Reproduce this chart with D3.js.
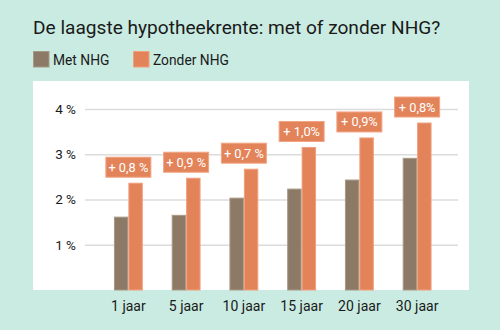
<!DOCTYPE html>
<html><head><meta charset="utf-8">
<script src="https://cdn.jsdelivr.net/npm/d3@7"></script>
<style>
body{margin:0;background:#c9ebe1;}
svg{display:block;font-family:Roboto,"Noto Sans",sans-serif;}
</style></head>
<body>
<svg id="c" width="500" height="330"></svg>
<script>
const categories = ["1 jaar","5 jaar","10 jaar","15 jaar","20 jaar","30 jaar"];
const metNHG = [1.61, 1.65, 2.03, 2.23, 2.43, 2.91];
const zonderNHG = [2.36, 2.47, 2.67, 3.15, 3.36, 3.69];
const diffLabels = ["+ 0,8 %","+ 0,9 %","+ 0,7 %","+ 1,0%","+ 0,9%","+ 0,8%"];
const yTicks = [1,2,3,4];
const seriesNames = ["Met NHG","Zonder NHG"];

const colors = ["#8c7a66","#e3835a"];
const svg = d3.select("#c");
svg.append("rect").attr("width",500).attr("height",330).attr("fill","#c9ebe1");

svg.append("text").attr("x",33).attr("y",34).attr("font-size",19.1).attr("fill","#1a1a1a")
  .text("De laagste hypotheekrente: met of zonder NHG?");

// legend
const legX = [33,133];
seriesNames.forEach((n,i)=>{
  svg.append("rect").attr("x",legX[i]+0.5).attr("y",51.5).attr("width",15.5).attr("height",15.5)
    .attr("fill",colors[i]).attr("stroke",i===0?"#a89886":"#f0a07c").attr("stroke-width",1);
  svg.append("text").attr("x",legX[i]+20).attr("y",65).attr("font-size",13.8).attr("fill","#1a1a1a").text(n);
});

// panel
svg.append("rect").attr("x",33).attr("y",81).attr("width",436).attr("height",209).attr("fill","#ffffff");

const y = d3.scaleLinear().domain([0,4]).range([290,109]);
const x = d3.scaleBand().domain(categories).range([99.5,446]).paddingInner(0.5).paddingOuter(0.25);
const xs = d3.scaleBand().domain(seriesNames).range([0,x.bandwidth()]);

// grid
const yAxis = d3.axisLeft(y).tickValues(yTicks).tickSize(-373).tickFormat(d=>d+" %").tickPadding(9);
const gy = svg.append("g").attr("transform","translate(458,0)").call(yAxis);
gy.select(".domain").remove();
gy.selectAll(".tick line").attr("stroke","#dcdcdc").attr("stroke-width",1.5).attr("transform","translate(-373,0)").attr("x2",373);
gy.selectAll(".tick text").attr("x",-382).attr("font-size",13.5).attr("fill","#1a1a1a").attr("font-family","Roboto,sans-serif");

// bars
const data = categories.map((c,i)=>({c, vals:[metNHG[i], zonderNHG[i]], lab:diffLabels[i]}));
const g = svg.append("g");
data.forEach(d=>{
  d.vals.forEach((v,j)=>{
    g.append("rect").attr("x",x(d.c)+xs(seriesNames[j])+0.5).attr("y",y(v))
      .attr("width",xs.bandwidth()-1).attr("height",y(0)-y(v))
      .attr("fill",colors[j]).attr("stroke",j===0?"#a89886":"#f0a07c").attr("stroke-width",1);
  });
  const cx = x(d.c)+x.bandwidth()/2;
  const by = y(d.vals[1]) - 6 - 20;
  g.append("rect").attr("x",cx-22.5).attr("y",by).attr("width",45).attr("height",20)
    .attr("fill","#e3835a").attr("stroke","#f0a483").attr("stroke-width",1);
  g.append("text").attr("x",cx).attr("y",by+14.5).attr("text-anchor","middle")
    .attr("font-size",12.8).attr("fill","#ffffff").text(d.lab);
});

// x axis labels
const xAxis = d3.axisBottom(x).tickSize(0).tickPadding(0);
const gx = svg.append("g").attr("transform","translate(0,300)").call(xAxis);
gx.select(".domain").remove();
gx.selectAll(".tick text").attr("dy","0.75em").attr("y",0).attr("font-size",14).attr("fill","#1a1a1a").attr("font-family","Roboto,sans-serif");
</script>
</body></html>
